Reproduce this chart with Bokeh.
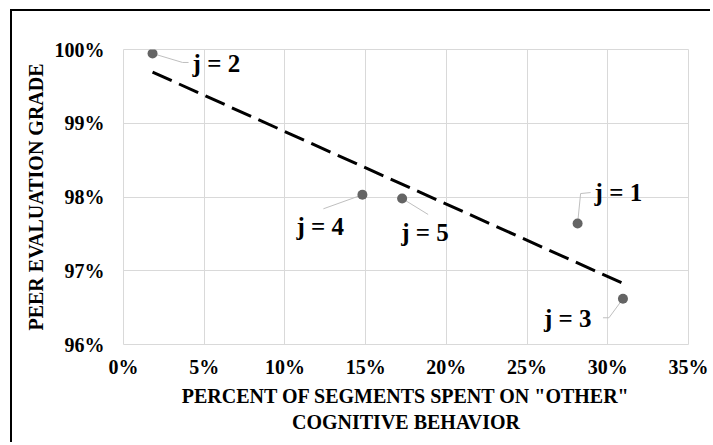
import numpy as np
from bokeh.plotting import figure
from bokeh.models import Range1d, FixedTicker, NumeralTickFormatter
from bokeh.core.properties import value
from bokeh.embed import file_html
from bokeh.resources import INLINE

# data (fractions)
labels = ["j = 1", "j = 2", "j = 3", "j = 4", "j = 5"]
other_pct = [0.2813, 0.0180, 0.3094, 0.1480, 0.1726]
peer_grade = [0.9764, 0.99946, 0.9662, 0.9803, 0.9798]
x_ticks = [0.0, 0.05, 0.10, 0.15, 0.20, 0.25, 0.30, 0.35]
y_ticks = [0.96, 0.97, 0.98, 0.99, 1.00]

FONT = "Liberation Serif"
W, H = 700, 433
ML, MR, MT, MB = 111, 24, 38, 100
XR, YR = (0.0, 0.35), (0.96, 1.00)
fw, fh = W - ML - MR, H - MT - MB
sx = fw / (XR[1] - XR[0])
sy = fh / (YR[1] - YR[0])

p = figure(width=W, height=H, x_range=Range1d(*XR), y_range=Range1d(*YR),
           output_backend="svg", toolbar_location=None,
           min_border_left=ML, min_border_right=MR, min_border_top=MT, min_border_bottom=MB)
p.styles = {"border-left": "2px solid black", "border-top": "2px solid black",
            "margin-left": "10px", "margin-top": "9px"}
p.outline_line_color = "#d9d9d9"
p.background_fill_color = "white"
p.border_fill_color = "white"

for ax, ticks in ((p.xaxis[0], x_ticks), (p.yaxis[0], y_ticks)):
    ax.ticker = FixedTicker(ticks=ticks)
    ax.formatter = NumeralTickFormatter(format="0%")
    ax.axis_line_color = None
    ax.major_tick_line_color = None
    ax.minor_tick_line_color = None
    ax.major_label_text_font = FONT
    ax.major_label_text_font_style = "bold"
    ax.major_label_text_font_size = "20px"
    ax.major_label_text_color = "black"
    ax.axis_label_text_font = FONT
    ax.axis_label_text_font_style = "bold"
    ax.axis_label_text_font_size = "20px"
    ax.axis_label_text_color = "black"

p.xaxis.axis_label = 'PERCENT OF SEGMENTS SPENT ON "OTHER"\nCOGNITIVE BEHAVIOR'
p.yaxis.axis_label = "PEER EVALUATION GRADE"
p.xaxis.major_label_standoff = 5
p.yaxis.major_label_standoff = 13
p.xaxis.axis_label_standoff = 4
p.yaxis.axis_label_standoff = 5

p.xgrid.ticker = FixedTicker(ticks=x_ticks)
p.ygrid.ticker = FixedTicker(ticks=y_ticks)
p.grid.grid_line_color = "#d9d9d9"
p.grid.grid_line_width = 1

# linear trendline from the data
m, b = np.polyfit(other_pct, peer_grade, 1)
tx = [min(other_pct), max(other_pct)]
ty = [m * v + b for v in tx]
p.line(tx, ty, line_color="black", line_width=3, line_dash="21 8")

# leader lines (pixel offsets from point, converted to data units)
leader_px = {
    "j = 1": [(0, 0), (3, -30), (13, -31)],
    "j = 2": [(0, 0), (30, 9), (36, 9)],
    "j = 3": [(0, 0), (-14, 19), (-20, 19)],
    "j = 4": [(0, 0), (-39, 14)],
    "j = 5": [(0, 0), (26, 16)],
}
label_px = {"j = 1": (17, -31), "j = 2": (40, 10), "j = 3": (-79, 20),
            "j = 4": (-66, 32), "j = 5": (-1, 34)}
lxs, lys, txs, tys = [], [], [], []
for lab, x, y in zip(labels, other_pct, peer_grade):
    lxs.append([x + dx / sx for dx, dy in leader_px[lab]])
    lys.append([y - dy / sy for dx, dy in leader_px[lab]])
    dx, dy = label_px[lab]
    txs.append(x + dx / sx)
    tys.append(y - dy / sy)
p.multi_line(lxs, lys, line_color="#bfbfbf", line_width=1)

p.scatter(other_pct, peer_grade, size=10, fill_color="#646464", line_color=None)

p.text(txs, tys, text=labels, text_font=value(FONT), text_font_style="bold",
       text_font_size="25px", text_color="black", text_align="left",
       text_baseline="alphabetic")

open("out.html", "w").write(file_html(p, INLINE))
